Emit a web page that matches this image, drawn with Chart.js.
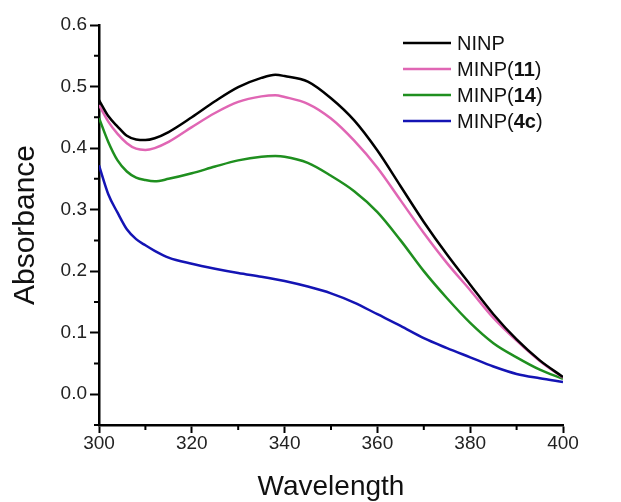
<!DOCTYPE html>
<html>
<head>
<meta charset="utf-8">
<script src="https://cdn.jsdelivr.net/npm/chart.js@4"></script>
<style>
  html, body { margin: 0; padding: 0; background: #fff; }
  #wrap { width: 621px; height: 502px; }
</style>
</head>
<body>
<div id="wrap"><canvas id="absChart" width="621" height="502"></canvas></div>
<script>
// Wavelength (nm) and absorbance
const wavelengths = [300, 302, 304, 306, 308, 310, 312, 315, 320, 325, 330, 335, 338, 340, 345, 350, 355, 360, 365, 370, 375, 380, 385, 390, 395, 400];
const ninp   = [0.478, 0.452, 0.435, 0.420, 0.414, 0.413, 0.416, 0.426, 0.450, 0.476, 0.499, 0.514, 0.519, 0.517, 0.508, 0.481, 0.445, 0.396, 0.338, 0.280, 0.227, 0.178, 0.130, 0.089, 0.055, 0.028];
const minp11 = [0.470, 0.443, 0.423, 0.408, 0.399, 0.397, 0.400, 0.410, 0.434, 0.457, 0.475, 0.484, 0.486, 0.483, 0.472, 0.448, 0.412, 0.368, 0.315, 0.262, 0.213, 0.169, 0.124, 0.087, 0.054, 0.027];
const minp14 = [0.449, 0.410, 0.380, 0.362, 0.352, 0.348, 0.346, 0.350, 0.359, 0.370, 0.380, 0.386, 0.387, 0.386, 0.376, 0.355, 0.330, 0.296, 0.250, 0.200, 0.156, 0.116, 0.083, 0.060, 0.040, 0.025];
const minp4c = [0.372, 0.325, 0.295, 0.268, 0.252, 0.242, 0.233, 0.222, 0.212, 0.204, 0.197, 0.191, 0.187, 0.184, 0.175, 0.164, 0.149, 0.130, 0.111, 0.091, 0.075, 0.060, 0.045, 0.033, 0.026, 0.020];

const seriesNames = ["NINP", "MINP(11)", "MINP(14)", "MINP(4c)"];
const seriesColors = ["#000000", "#e066b4", "#1f8f1f", "#1414b4"];

const xMajorTicks = [300, 320, 340, 360, 380, 400];
const yMajorTicks = [0.0, 0.1, 0.2, 0.3, 0.4, 0.5, 0.6];

const FONT = "'Liberation Sans', Arial, sans-serif";

function toPoints(ys) {
    return wavelengths.map((x, i) => ({ x: x, y: ys[i] }));
}

function isMajor(list, v) {
    return list.some((t) => Math.abs(t - v) < 1e-6);
}

// Short minor ticks between the labelled ones
const minorTicks = {
    id: "minorTicks",
    afterDraw(chart) {
        const ctx = chart.ctx;
        const xs = chart.scales.x;
        const ys = chart.scales.y;
        ctx.save();
        ctx.strokeStyle = "#000";
        ctx.lineWidth = 2;
        ctx.beginPath();
        xs.ticks.forEach((t) => {
            if (isMajor(xMajorTicks, t.value)) return;
            const px = xs.getPixelForValue(t.value);
            ctx.moveTo(px, xs.top);
            ctx.lineTo(px, xs.top + 5);
        });
        ys.ticks.forEach((t) => {
            if (isMajor(yMajorTicks, t.value)) return;
            const py = ys.getPixelForValue(t.value);
            ctx.moveTo(ys.right, py);
            ctx.lineTo(ys.right - 5, py);
        });
        ctx.stroke();
        ctx.restore();
    },
};

// Legend with the compound numbers in bold
const boldLegend = {
    id: "boldLegend",
    afterDraw(chart) {
        const ctx = chart.ctx;
        const x0 = 403, y0 = 43, gap = 26;
        ctx.save();
        ctx.textBaseline = "middle";
        chart.data.datasets.forEach((ds, i) => {
            const y = y0 + i * gap;
            ctx.strokeStyle = ds.borderColor;
            ctx.lineWidth = 2.5;
            ctx.beginPath();
            ctx.moveTo(x0, y);
            ctx.lineTo(x0 + 48, y);
            ctx.stroke();

            let x = x0 + 54;
            const m = ds.label.match(/^([^(]*)(?:\((.*)\))?$/);
            const parts = [[m[1], "normal"]];
            if (m[2] !== undefined) {
                parts.push(["(", "normal"], [m[2], "bold"], [")", "normal"]);
            }
            ctx.fillStyle = "#111";
            parts.forEach(([txt, weight]) => {
                ctx.font = weight + " 20px " + FONT;
                ctx.fillText(txt, x, y + 1);
                x += ctx.measureText(txt).width;
            });
        });
        ctx.restore();
    },
};

const allSeries = [ninp, minp11, minp14, minp4c];

new Chart(document.getElementById("absChart").getContext("2d"), {
    type: "line",
    data: {
        datasets: allSeries.map((ys, i) => ({
            label: seriesNames[i],
            data: toPoints(ys),
            borderColor: seriesColors[i],
            backgroundColor: seriesColors[i],
            borderWidth: 2.5,
            pointRadius: 0,
            cubicInterpolationMode: "monotone",
            fill: false,
        })),
    },
    options: {
        responsive: false,
        animation: false,
        layout: { padding: { top: 25, right: 58, left: 0, bottom: 0 } },
        plugins: {
            legend: { display: false },
            tooltip: { enabled: false },
        },
        scales: {
            x: {
                type: "linear",
                min: 300,
                max: 400,
                afterFit: (s) => { s.height = 77; },
                border: { display: true, color: "#000", width: 2.5 },
                grid: {
                    drawOnChartArea: false,
                    drawTicks: true,
                    tickLength: 8,
                    tickWidth: 2,
                    tickColor: (c) => isMajor(xMajorTicks, c.tick.value) ? "#000" : "rgba(0,0,0,0)",
                },
                ticks: {
                    stepSize: 10,
                    padding: 1,
                    maxRotation: 0,
                    autoSkip: false,
                    color: "#222",
                    font: { family: FONT, size: 19, lineHeight: 1 },
                    callback: (v) => isMajor(xMajorTicks, v) ? String(v) : "",
                },
                title: {
                    display: true,
                    text: "Wavelength",
                    color: "#111",
                    font: { family: FONT, size: 28, lineHeight: 1 },
                    padding: { top: 0, bottom: 1 },
                },
            },
            y: {
                min: -0.05,
                max: 0.6,
                afterFit: (s) => { s.width = 99; },
                border: { display: true, color: "#000", width: 2.5 },
                grid: {
                    drawOnChartArea: false,
                    drawTicks: true,
                    tickLength: 9,
                    tickWidth: 2,
                    tickColor: (c) => isMajor(yMajorTicks, c.tick.value) ? "#000" : "rgba(0,0,0,0)",
                },
                ticks: {
                    stepSize: 0.05,
                    padding: 3,
                    autoSkip: false,
                    color: "#222",
                    font: { family: FONT, size: 19 },
                    callback: (v) => isMajor(yMajorTicks, v) ? v.toFixed(1) : "",
                },
                title: {
                    display: true,
                    text: "Absorbance",
                    color: "#111",
                    font: { family: FONT, size: 30, lineHeight: 1 },
                    padding: { top: 11, bottom: 0 },
                },
            },
        },
    },
    plugins: [minorTicks, boldLegend],
});
</script>
</body>
</html>
